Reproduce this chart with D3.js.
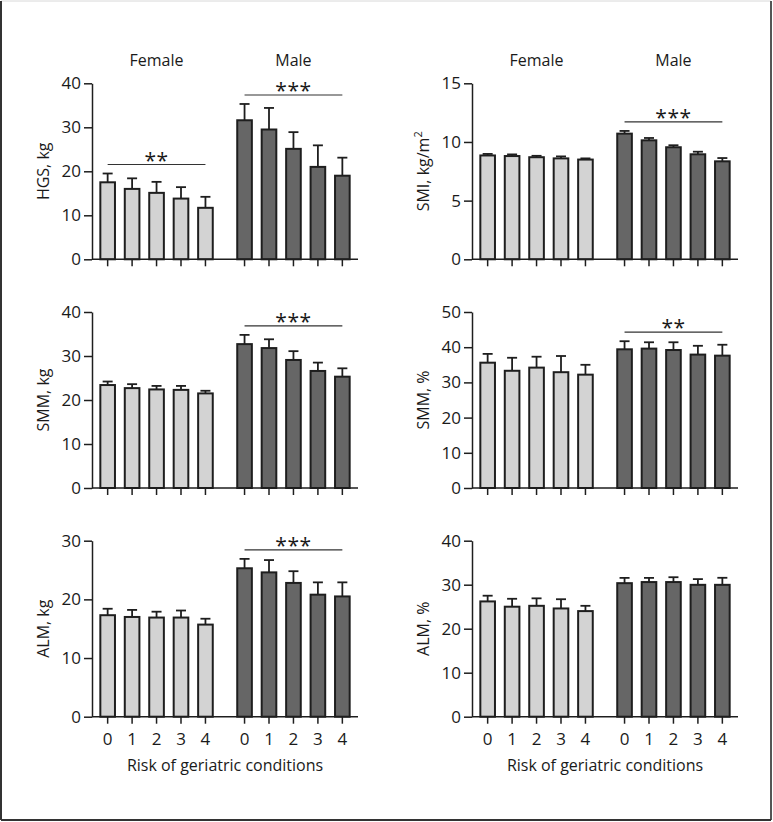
<!DOCTYPE html>
<html>
<head>
<meta charset="utf-8">
<script src="https://cdn.jsdelivr.net/npm/d3@7"></script>
<style>
  html, body { margin: 0; padding: 0; background: #fff; }
  svg { display: block; }
  text { font-family: "Open Sans", "Noto Sans", sans-serif; fill: #1a1a1a; }
</style>
</head>
<body>
<svg id="chart" width="773" height="822"></svg>
<script>
// ---------------- data ----------------
const riskLevels = ["0", "1", "2", "3", "4"];
const sexes = ["Female", "Male"];

const hgsFemale    = [17.5, 16.0, 15.1, 13.8, 11.7];
const hgsFemaleSD  = [2.0, 2.4, 2.5, 2.6, 2.5];
const hgsMale      = [31.6, 29.5, 25.1, 21.0, 19.0];
const hgsMaleSD    = [3.7, 4.9, 3.8, 4.9, 4.1];

const smiFemale    = [8.85, 8.8, 8.7, 8.6, 8.5];
const smiFemaleSD  = [0.13, 0.14, 0.12, 0.17, 0.10];
const smiMale      = [10.71, 10.14, 9.55, 8.95, 8.35];
const smiMaleSD    = [0.23, 0.20, 0.17, 0.22, 0.28];

const smmKgFemale   = [23.4, 22.7, 22.4, 22.3, 21.5];
const smmKgFemaleSD = [0.8, 0.9, 0.8, 0.9, 0.6];
const smmKgMale     = [32.7, 31.8, 29.1, 26.6, 25.3];
const smmKgMaleSD   = [2.1, 2.0, 2.0, 1.9, 1.9];

const smmPctFemale   = [35.6, 33.3, 34.2, 32.9, 32.2];
const smmPctFemaleSD = [2.5, 3.7, 3.1, 4.6, 2.8];
const smmPctMale     = [39.4, 39.6, 39.2, 37.9, 37.6];
const smmPctMaleSD   = [2.3, 1.8, 2.2, 2.5, 3.1];

const almKgFemale   = [17.3, 17.0, 16.9, 16.9, 15.7];
const almKgFemaleSD = [1.1, 1.2, 1.0, 1.2, 1.0];
const almKgMale     = [25.3, 24.6, 22.8, 20.8, 20.5];
const almKgMaleSD   = [1.6, 2.1, 2.0, 2.1, 2.4];

const almPctFemale   = [26.2, 25.0, 25.2, 24.6, 24.0];
const almPctFemaleSD = [1.3, 1.8, 1.7, 2.1, 1.2];
const almPctMale     = [30.35, 30.6, 30.6, 29.97, 29.97];
const almPctMaleSD   = [1.2, 0.95, 1.1, 1.3, 1.6];

const yLabels   = [["HGS, kg"], ["SMI, kg/m", "2"], ["SMM, kg"], ["SMM, %"], ["ALM, kg"], ["ALM, %"]];
const yMax      = [40, 15, 40, 50, 30, 40];
const yTicks    = [[0,10,20,30,40], [0,5,10,15], [0,10,20,30,40], [0,10,20,30,40,50], [0,10,20,30], [0,10,20,30,40]];
// significance marks: [female, male]
const sigMarks  = [["**", "***"], ["", "***"], ["", "***"], ["", "**"], ["", "***"], ["", ""]];
const xTitle = "Risk of geriatric conditions";

const panelData = [
  [[hgsFemale, hgsFemaleSD], [hgsMale, hgsMaleSD]],
  [[smiFemale, smiFemaleSD], [smiMale, smiMaleSD]],
  [[smmKgFemale, smmKgFemaleSD], [smmKgMale, smmKgMaleSD]],
  [[smmPctFemale, smmPctFemaleSD], [smmPctMale, smmPctMaleSD]],
  [[almKgFemale, almKgFemaleSD], [almKgMale, almKgMaleSD]],
  [[almPctFemale, almPctFemaleSD], [almPctMale, almPctMaleSD]]
];

// ---------------- layout ----------------
const svg = d3.select("#chart");
const colAxisX = [92, 472];
const plotW = 266;
const rowTop = [83.3, 312, 540.7];
const plotH = 176;
const fills = { Female: "#d3d3d3", Male: "#666666" };
const ink = "#1e1e1e";

// frame
svg.append("line").attr("x1", 1).attr("x2", 771).attr("y1", 1).attr("y2", 1).attr("stroke", "#d8d8d8").attr("stroke-width", 1);
svg.append("line").attr("x1", 1).attr("x2", 1).attr("y1", 1).attr("y2", 820).attr("stroke", "#333").attr("stroke-width", 2);
svg.append("line").attr("x1", 771).attr("x2", 771).attr("y1", 1).attr("y2", 820).attr("stroke", "#555").attr("stroke-width", 2);
svg.append("line").attr("x1", 1).attr("x2", 771).attr("y1", 820).attr("y2", 820).attr("stroke", "#333").attr("stroke-width", 2);

panelData.forEach((pd, p) => {
  const col = p % 2, row = Math.floor(p / 2);
  const ax = colAxisX[col];
  const top = rowTop[row];
  const g = svg.append("g");

  const y = d3.scaleLinear().domain([0, yMax[p]]).range([top + plotH, top]);
  const xOuter = d3.scaleBand().domain(sexes).range([ax, ax + plotW]).paddingInner(0.107).paddingOuter(0.025);
  const xInner = d3.scaleBand().domain(riskLevels).range([0, xOuter.bandwidth()]).paddingInner(0.32).paddingOuter(0.16);
  const cx = (s, r) => xOuter(s) + xInner(r) + xInner.bandwidth() / 2;

  // y axis
  const yAxis = d3.axisLeft(y).tickValues(yTicks[p]).tickSize(8).tickSizeOuter(0).tickPadding(3);
  const ya = g.append("g").attr("transform", `translate(${ax},0)`).call(yAxis);
  ya.select(".domain").attr("stroke", ink).attr("stroke-width", 1.5);
  ya.selectAll(".tick line").attr("stroke", ink).attr("stroke-width", 1.5);
  ya.selectAll(".tick text").attr("font-size", 17).attr("font-family", "Open Sans").attr("fill", "#1a1a1a");

  // y label
  const yl = g.append("text")
    .attr("transform", `translate(${ax - 49},${top + plotH / 2}) rotate(-90)`)
    .attr("text-anchor", "middle").attr("dominant-baseline", "central")
    .attr("font-size", 16);
  yl.append("tspan").text(yLabels[p][0]);
  if (yLabels[p][1]) yl.append("tspan").attr("font-size", 11).attr("dy", -6).text(yLabels[p][1]);

  // bars
  const sw = 2;
  sexes.forEach((s, si) => {
    const vals = pd[si][0], sds = pd[si][1];
    const recs = riskLevels.map((r, i) => ({ r, v: vals[i], sd: sds[i] }));
    // error bars (up only)
    g.selectAll(null).data(recs).enter().append("line")
      .attr("x1", d => cx(s, d.r)).attr("x2", d => cx(s, d.r))
      .attr("y1", d => y(d.v)).attr("y2", d => y(d.v + d.sd))
      .attr("stroke", ink).attr("stroke-width", 1.8);
    g.selectAll(null).data(recs).enter().append("line")
      .attr("x1", d => cx(s, d.r) - 5).attr("x2", d => cx(s, d.r) + 5)
      .attr("y1", d => y(d.v + d.sd)).attr("y2", d => y(d.v + d.sd))
      .attr("stroke", ink).attr("stroke-width", 1.8);
    g.selectAll(null).data(recs).enter().append("rect")
      .attr("x", d => xOuter(s) + xInner(d.r) + sw / 2)
      .attr("width", xInner.bandwidth() - sw)
      .attr("y", d => y(d.v))
      .attr("height", d => y(0) - y(d.v))
      .attr("fill", fills[s]).attr("stroke", ink).attr("stroke-width", sw);

    // significance
    const mark = sigMarks[p][si];
    if (mark) {
      const maxTop = d3.min(recs, d => y(d.v + d.sd));
      const ly = maxTop - 9;
      g.append("line")
        .attr("x1", cx(s, riskLevels[0])).attr("x2", cx(s, riskLevels[4]))
        .attr("y1", ly).attr("y2", ly).attr("stroke", "#333").attr("stroke-width", 1.2);
      g.append("text").attr("x", cx(s, riskLevels[2])).attr("y", ly + 3)
        .attr("text-anchor", "middle").attr("font-size", 21).attr("letter-spacing", 0.5)
        .text(mark);
    }

    // x ticks
    g.selectAll(null).data(recs).enter().append("line")
      .attr("x1", d => cx(s, d.r)).attr("x2", d => cx(s, d.r))
      .attr("y1", y(0)).attr("y2", y(0) + 7)
      .attr("stroke", ink).attr("stroke-width", 1.5);

    if (row === 2) {
      g.selectAll(null).data(recs).enter().append("text")
        .attr("x", d => cx(s, d.r)).attr("y", y(0) + 22)
        .attr("text-anchor", "middle").attr("dominant-baseline", "central")
        .attr("font-size", 17).text(d => d.r);
    }
    if (row === 0) {
      g.append("text").attr("x", cx(s, riskLevels[2])).attr("y", 60)
        .attr("text-anchor", "middle").attr("dominant-baseline", "central")
        .attr("font-size", 16).text(s);
    }
  });

  // x baseline
  g.append("line").attr("x1", ax).attr("x2", ax + plotW)
    .attr("y1", y(0)).attr("y2", y(0)).attr("stroke", ink).attr("stroke-width", 1.5);

  if (row === 2) {
    g.append("text").attr("x", (cx("Female", riskLevels[0]) + cx("Male", riskLevels[4])) / 2)
      .attr("y", 765).attr("text-anchor", "middle").attr("dominant-baseline", "central")
      .attr("font-size", 16).text(xTitle);
  }
});
</script>
</body>
</html>
